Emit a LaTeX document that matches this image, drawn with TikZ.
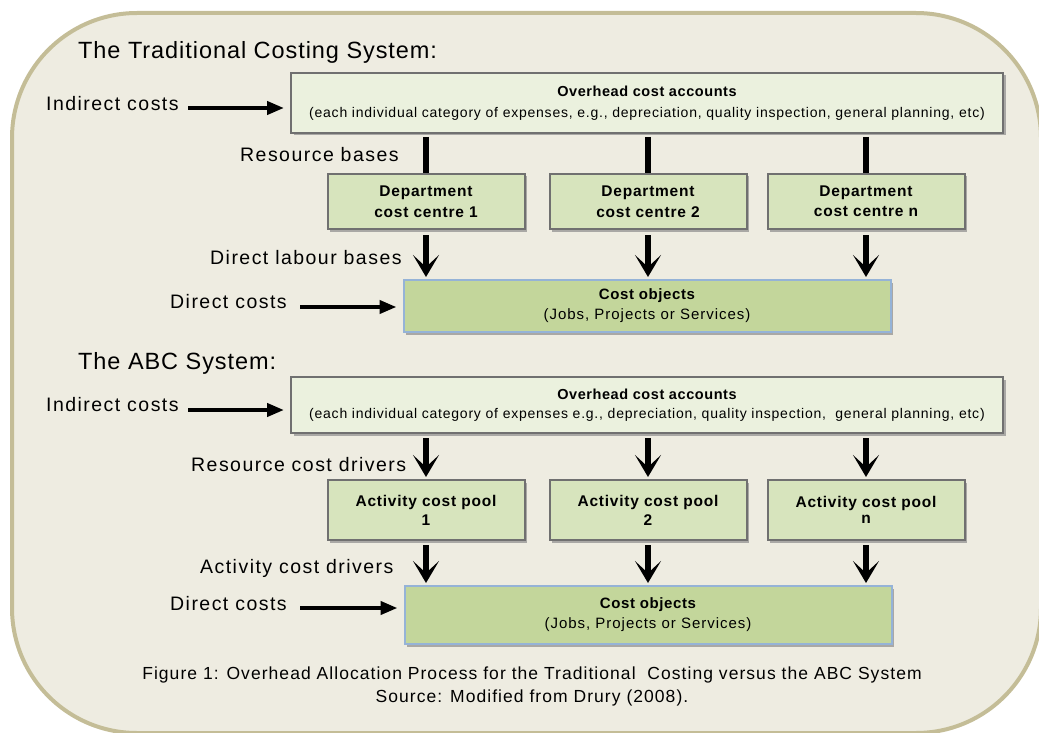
\documentclass[tikz,border=0pt]{standalone}
\usepackage{fontspec}
\setmainfont{Liberation Sans}[LetterSpace=4]
\usetikzlibrary{arrows.meta,shadows}
\definecolor{bgfill}{HTML}{EEECE1}
\definecolor{bgline}{HTML}{C4BD97}
\definecolor{ohfill}{HTML}{EBF1DE}
\definecolor{dpfill}{HTML}{D7E4BD}
\definecolor{cofill}{HTML}{C3D69B}
\definecolor{coline}{HTML}{95B3D7}
\definecolor{boxline}{HTML}{707070}
\tikzset{
  shd/.style={drop shadow={shadow xshift=2.5pt,shadow yshift=-2.5pt,fill=black!45,opacity=.7}},
  ohbox/.style={shd,draw=boxline,line width=2pt,fill=ohfill,inner sep=0pt,align=center,
    minimum width=712pt},
  dpbox/.style={shd,draw=boxline,line width=2pt,fill=dpfill,inner sep=0pt,align=center,
    minimum width=197pt},
  cobox/.style={shd,draw=coline,line width=2pt,fill=cofill,inner sep=0pt,align=center,
    minimum width=487pt},
  lbl/.style={anchor=west,inner sep=0pt,font=\fontsize{19.5}{22}\selectfont\addfontfeature{LetterSpace=7.5}},
  ttl/.style={anchor=west,inner sep=0pt,font=\fontsize{23.5}{26}\selectfont},
  harrow/.style={line width=4pt,-{Triangle[length=17pt,width=13pt]}},
  varrow/.style={line width=6pt,-{Stealth[length=22pt,width=26pt,inset=12pt]}},
  vline/.style={line width=6pt},
}
\newcommand{\ohbf}{\fontsize{14.5}{16}\selectfont\bfseries}
\newcommand{\ohsf}{\fontsize{14}{16}\selectfont\addfontfeature{LetterSpace=5.5}}
\newcommand{\dpbf}{\fontsize{15.5}{17}\selectfont\bfseries\addfontfeature{LetterSpace=5}}
\newcommand{\cobf}{\fontsize{15}{17}\selectfont\bfseries}
\newcommand{\cosf}{\fontsize{15}{17}\selectfont\addfontfeature{LetterSpace=6.5}}
\begin{document}
\begin{tikzpicture}[x=1pt,y=-1pt]
\useasboundingbox (0,0) rectangle (1039,733);
\draw[bgline,line width=4pt,fill=bgfill,rounded corners=125pt] (12,13) rectangle (1041,733);

% ---------- Traditional ----------
\node[ttl] (t1) at (78,52) {The Traditional Costing System:};
\node[lbl] (ic1) at (46,104) {Indirect costs};
\node[ohbox,minimum height=60pt] (o1) at (647,103)
  {{\ohbf Overhead cost accounts}\\[9pt]
   {\ohsf (each individual category of expenses, e.g., depreciation, quality inspection, general planning, etc)}};
\coordinate (ia1) at (188,108);
\draw[harrow,shorten >=6pt] (ia1) -- (ia1 -| o1.west);

\node[lbl] (rb) at (240,155) {Resource bases};
\node[dpbox,minimum height=55pt] (d1) at (426,201.5) {\dpbf Department\\[6pt]\dpbf cost centre 1};
\node[dpbox,minimum height=55pt] (d2) at (648,201.5) {\dpbf Department\\[6pt]\dpbf cost centre 2};
\node[dpbox,minimum height=55pt] (d3) at (866,201.5) {\dpbf Department\\[6pt]\dpbf cost centre n};
\draw[vline,shorten <=3pt] (d1.north |- o1.south) -- (d1.north);
\draw[vline,shorten <=3pt] (d2.north |- o1.south) -- (d2.north);
\draw[vline,shorten <=3pt] (d3.north |- o1.south) -- (d3.north);

\node[lbl] (dlb) at (210,258) {Direct labour bases};
\node[lbl] (dc1) at (170,302) {Direct costs};
\node[cobox,minimum height=52pt] (c1) at (647,306)
  {{\cobf Cost objects}\\[5pt]{\cosf (Jobs, Projects or Services)}};
\draw[varrow,shorten <=5pt,shorten >=2pt] (d1.south) -- (d1.south |- c1.north);
\draw[varrow,shorten <=5pt,shorten >=2pt] (d2.south) -- (d2.south |- c1.north);
\draw[varrow,shorten <=5pt,shorten >=2pt] (d3.south) -- (d3.south |- c1.north);
\coordinate (da1) at (300,307);
\draw[harrow,shorten >=6pt] (da1) -- (da1 -| c1.west);

% ---------- ABC ----------
\node[ttl] (t2) at (78,363) {The ABC System:};
\node[lbl] (ic2) at (46,405) {Indirect costs};
\node[ohbox,minimum height=56pt] (o2) at (647,405)
  {{\ohbf Overhead cost accounts}\\[7pt]
   {\ohsf (each individual category of expenses e.g., depreciation, quality inspection,\ \ general planning, etc)}};
\coordinate (ia2) at (188,410);
\draw[harrow,shorten >=6pt] (ia2) -- (ia2 -| o2.west);

\node[lbl] (rcd) at (191,465) {Resource cost drivers};
\node[dpbox,minimum height=60pt] (p1) at (426,510) {\dpbf Activity cost pool\\[4pt]\dpbf 1};
\node[dpbox,minimum height=60pt] (p2) at (648,510) {\dpbf Activity cost pool\\[4pt]\dpbf 2};
\node[dpbox,minimum height=60pt] (p3) at (866,510) {\dpbf Activity cost pool\\[4pt]\dpbf n};
\draw[varrow,shorten <=4pt,shorten >=2pt] (p1.north |- o2.south) -- (p1.north);
\draw[varrow,shorten <=4pt,shorten >=2pt] (p2.north |- o2.south) -- (p2.north);
\draw[varrow,shorten <=4pt,shorten >=2pt] (p3.north |- o2.south) -- (p3.north);

\node[lbl] (acd) at (200,568) {Activity cost drivers};
\node[lbl] (dc2) at (170,604) {Direct costs};
\node[cobox,minimum height=58pt] (c2) at (648,615)
  {{\cobf Cost objects}\\[5pt]{\cosf (Jobs, Projects or Services)}};
\draw[varrow,shorten <=4pt,shorten >=2pt] (p1.south) -- (p1.south |- c2.north);
\draw[varrow,shorten <=4pt,shorten >=2pt] (p2.south) -- (p2.south |- c2.north);
\draw[varrow,shorten <=4pt,shorten >=2pt] (p3.south) -- (p3.south |- c2.north);
\coordinate (da2) at (300,608);
\draw[harrow,shorten >=6pt] (da2) -- (da2 -| c2.west);

% ---------- caption ----------
\node[inner sep=0pt,align=center,font=\fontsize{17.5}{23}\selectfont\addfontfeature{LetterSpace=6}] (cap) at (532,686.5)
  {Figure 1: Overhead Allocation Process for the Traditional\ \ Costing versus the ABC System\\
   Source: Modified from Drury (2008).};
\end{tikzpicture}
\end{document}
